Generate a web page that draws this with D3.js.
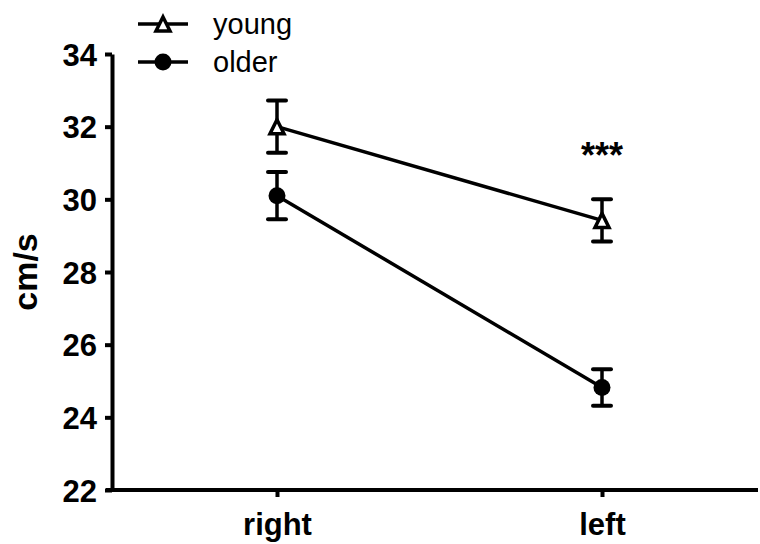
<!DOCTYPE html>
<html>
<head>
<meta charset="utf-8">
<script src="https://cdn.jsdelivr.net/npm/d3@7"></script>
<style>
  body { margin: 0; background: #fff; }
  svg { font-family: "Liberation Sans", Arial, sans-serif; }
</style>
</head>
<body>
<svg id="chart"></svg>
<script>
const categories = ["right", "left"];
const youngMean = [32.0, 29.42];
const youngSem = [0.72, 0.58];
const olderMean = [30.1, 24.82];
const olderSem = [0.65, 0.5];
const yTicks = [22, 24, 26, 28, 30, 32, 34];

const width = 760;
const height = 544;
const margin = { top: 54, right: 2, bottom: 54, left: 112 };

const svg = d3.select("#chart").attr("width", width).attr("height", height);

const x = d3
  .scalePoint()
  .domain(categories)
  .range([277, 602]);

const y = d3
  .scaleLinear()
  .domain([22, 34])
  .range([height - margin.bottom, margin.top]);

// axes
const yAxis = svg
  .append("g")
  .attr("transform", `translate(${margin.left},0)`)
  .call(d3.axisLeft(y).tickValues(yTicks).tickSize(7).tickSizeOuter(0));

const xAxis = svg
  .append("g")
  .attr("transform", `translate(0,${height - margin.bottom})`)
  .call(d3.axisBottom(x).tickSize(7).tickSizeOuter(0));

xAxis.select(".domain").attr("d", `M${margin.left - 6},0H${width - margin.right}`);

[xAxis, yAxis].forEach((g) => {
  g.selectAll("path, line").attr("stroke", "#000").attr("stroke-width", 4);
  g.selectAll("text")
    .attr("fill", "#000")
    .attr("font-size", 31)
    .attr("font-weight", "bold");
});
yAxis.selectAll("text").attr("x", -15).attr("dy", "0.36em");
xAxis.selectAll("text").attr("y", 45).attr("dy", 0);

// y label
svg
  .append("text")
  .attr("transform", `translate(37,${(margin.top + height - margin.bottom) / 2}) rotate(-90)`)
  .attr("text-anchor", "middle")
  .attr("font-size", 34)
  .attr("font-weight", "bold")
  .text("cm/s");

const series = [
  { name: "young", mean: youngMean, sem: youngSem, symbol: "triangle" },
  { name: "older", mean: olderMean, sem: olderSem, symbol: "circle" },
];

const line = d3
  .line()
  .x((d, i) => x(categories[i]))
  .y((d) => y(d));

function drawMarker(g, type, cx, cy) {
  if (type === "triangle") {
    g.append("path")
      .attr("d", `M${cx},${cy - 7}L${cx + 7},${cy + 7}L${cx - 7},${cy + 7}Z`)
      .attr("fill", "#fff")
      .attr("stroke", "#000")
      .attr("stroke-width", 3.5)
      .attr("stroke-linejoin", "miter");
  } else {
    g.append("circle")
      .attr("cx", cx)
      .attr("cy", cy)
      .attr("r", 8.5)
      .attr("fill", "#000");
  }
}

series.forEach((s) => {
  const g = svg.append("g");
  g.append("path")
    .datum(s.mean)
    .attr("d", line)
    .attr("fill", "none")
    .attr("stroke", "#000")
    .attr("stroke-width", 3.5);

  s.mean.forEach((m, i) => {
    const cx = x(categories[i]);
    const top = y(m + s.sem[i]);
    const bot = y(m - s.sem[i]);
    g.append("line")
      .attr("x1", cx).attr("x2", cx)
      .attr("y1", top).attr("y2", bot)
      .attr("stroke", "#000").attr("stroke-width", 3.5);
    [top, bot].forEach((yy) => {
      g.append("line")
        .attr("x1", cx - 9).attr("x2", cx + 9)
        .attr("y1", yy).attr("y2", yy)
        .attr("stroke", "#000").attr("stroke-width", 4)
        .attr("stroke-linecap", "round");
    });
    drawMarker(g, s.symbol, cx, y(m));
  });
});

// significance
svg
  .append("text")
  .attr("x", x("left"))
  .attr("y", 168)
  .attr("text-anchor", "middle")
  .attr("font-size", 36)
  .attr("font-weight", "bold")
  .text("***");

// legend
const legend = svg.append("g").attr("transform", "translate(138,24)");
series.forEach((s, i) => {
  const ly = i * 38;
  legend.append("line")
    .attr("x1", 0).attr("x2", 50)
    .attr("y1", ly).attr("y2", ly)
    .attr("stroke", "#000").attr("stroke-width", 3.5);
  drawMarker(legend, s.symbol, 25, ly);
  legend.append("text")
    .attr("x", 75)
    .attr("y", ly)
    .attr("dy", "0.34em")
    .attr("font-size", 29)
    .text(s.name);
});
</script>
</body>
</html>
